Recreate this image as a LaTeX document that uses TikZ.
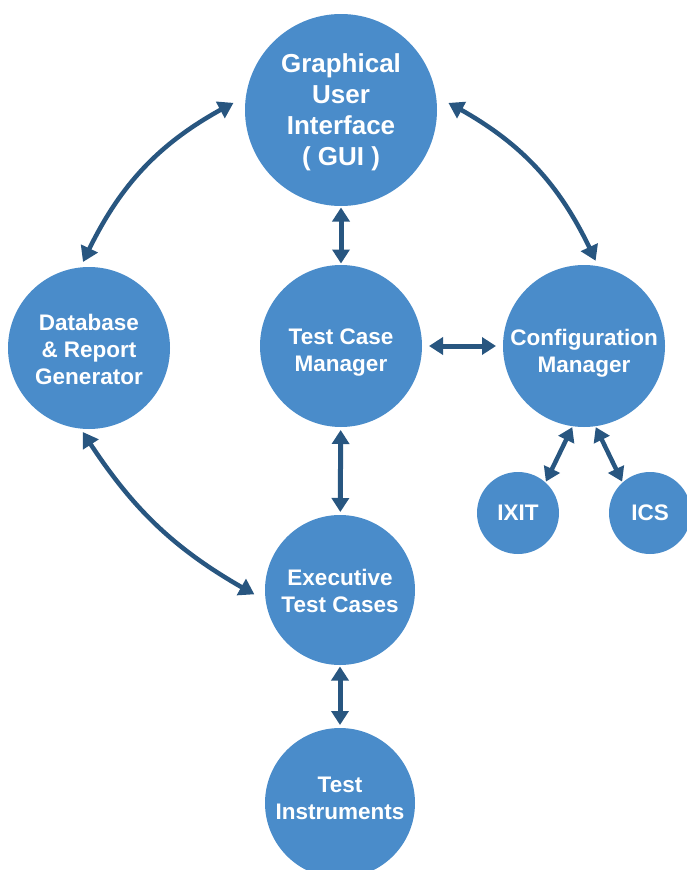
\documentclass[tikz,border=0pt]{standalone}
\usepackage{fontspec}
\setmainfont{Liberation Sans}
\usetikzlibrary{arrows.meta}
\usetikzlibrary{bending}
\definecolor{bubbleblue}{HTML}{4A8CCA}
\definecolor{linkblue}{HTML}{285680}
\tikzset{bubble/.style={circle, fill=bubbleblue, inner sep=0pt, outer sep=0pt}}
\tikzset{words/.style={text=white, inner sep=0pt, align=center, font=\fontsize{22.5}{27}\selectfont\bfseries}}
\tikzset{bigwords/.style={words, font=\fontsize{26}{31}\selectfont\bfseries}}
\tikzset{link/.style={draw=linkblue, line width=5pt, {Triangle[width=17pt,length=14pt]}-{Triangle[width=17pt,length=14pt]}}}
\tikzset{curvy/.style={link, line width=4.5pt, {Triangle[width=18pt,length=15pt]}-{Triangle[width=18pt,length=15pt]}}}

\begin{document}
\begin{tikzpicture}[x=1pt,y=1pt]
\useasboundingbox (0,0) rectangle (687,-870);

% circles
\node[bubble,minimum size=192pt,label={[bigwords,yshift=-2pt]center:{Graphical\\User\\Interface\\( GUI )}}] (gui) at (341,-110) {};
\node[bubble,minimum size=162pt,label={[words,yshift=-7pt]center:{Test Case\\Manager}}] (tcm) at (341,-346) {};
\node[bubble,minimum size=162pt,label={[words,yshift=-1pt]center:{Database\\\& Report\\Generator}}] (db) at (89,-348) {};
\node[bubble,minimum size=162pt,label={[words,yshift=-7pt]center:{Configuration\\Manager}}] (cfg) at (584,-346) {};
\node[bubble,minimum size=150pt,label={[words,yshift=-1pt]center:{Executive\\Test Cases}}] (exec) at (340,-590) {};
\node[bubble,minimum size=150pt,label={[words,yshift=5pt]center:{Test\\Instruments}}] (instr) at (340,-803) {};
\node[bubble,minimum size=82pt,label={[words]center:IXIT}] (ixit) at (518,-513) {};
\node[bubble,minimum size=82pt,label={[words]center:ICS}] (ics) at (650,-513) {};

% straight links
\draw[link, shorten <=1.5pt, shorten >=1.5pt] (gui) -- (tcm);
\draw[link, shorten <=7pt, shorten >=7pt] (tcm) -- (cfg);
\draw[link, shorten <=3pt, shorten >=3pt] (tcm) -- (exec);
\draw[link, shorten <=1.5pt, shorten >=3pt] (exec) -- (instr);
\draw[link, line width=4.5pt, shorten <=1pt, shorten >=1pt] (cfg.262) -- (ixit.48);
\draw[link, line width=4.5pt, shorten <=1pt, shorten >=1pt] (cfg.278) -- (ics.132);

% curved links
\draw[curvy, shorten <=14pt, shorten >=6pt] (gui.172) to[bend right=20] (db.96);
\draw[curvy, shorten <=14pt, shorten >=6pt] (gui.8) to[bend left=20] (cfg.80);
\draw[curvy, shorten <=4pt, shorten >=13pt] (db.264) to[bend right=15] (exec.188);
\end{tikzpicture}
\end{document}
